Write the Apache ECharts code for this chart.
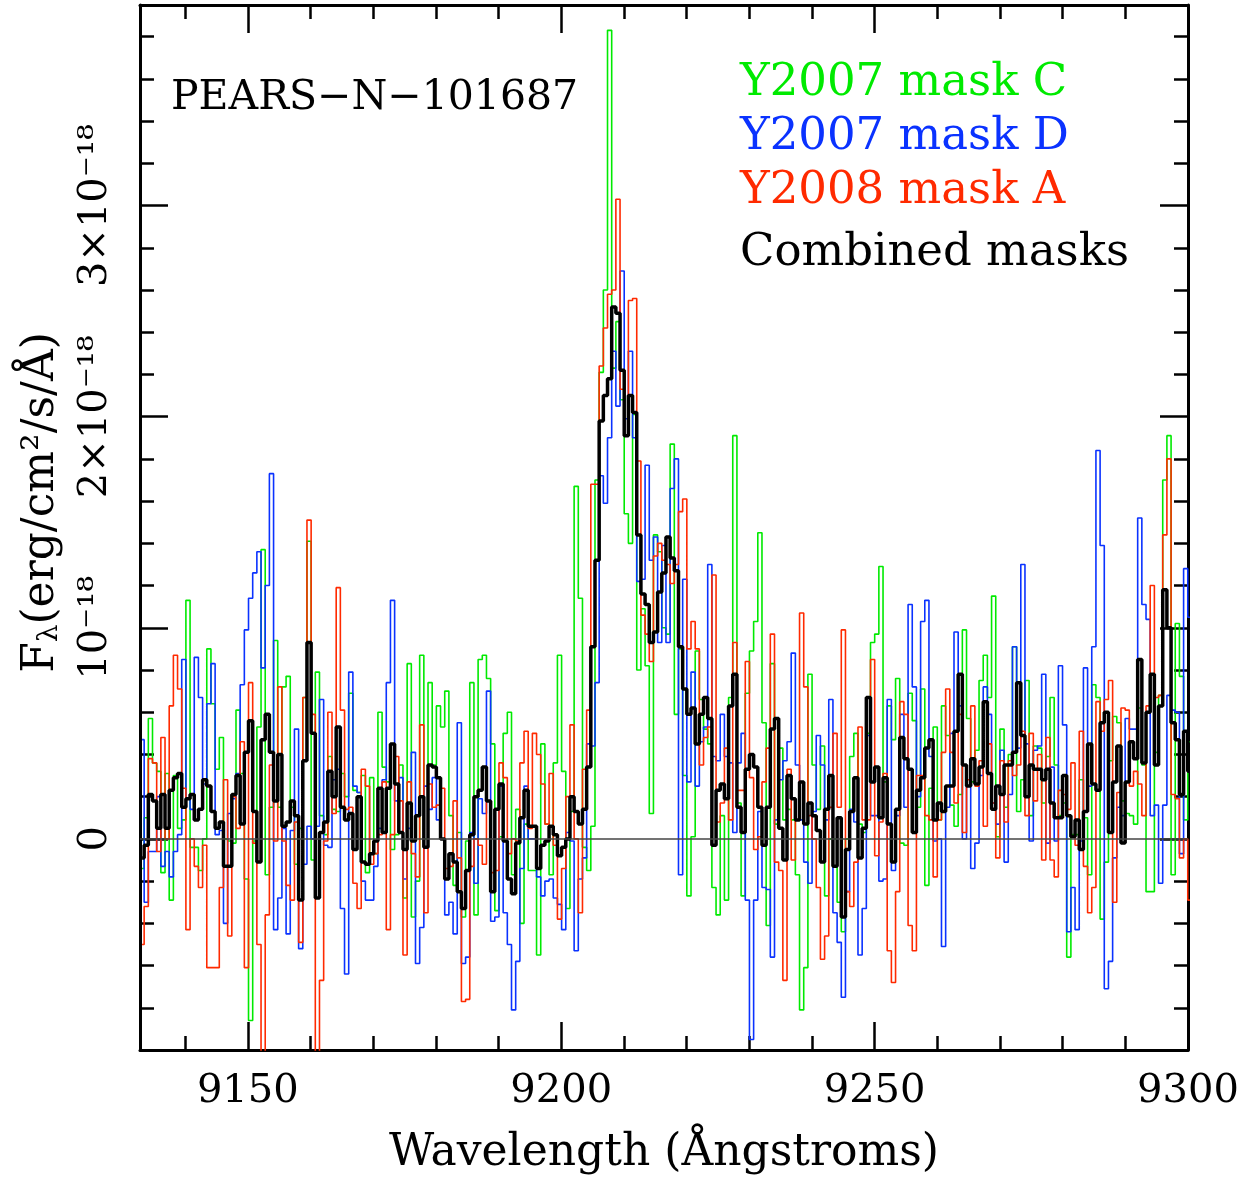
<!DOCTYPE html>
<html><head><meta charset="utf-8">
<script src="https://cdn.jsdelivr.net/npm/echarts@6.0.0/dist/echarts.min.js"></script>
<style>html,body{margin:0;padding:0;background:#fff}#chart{width:1255px;height:1178px}</style>
</head><body><div id="chart"></div>
<script>
// Spectral sampling grid (Angstrom): centre of first bin and bin width
const lamStart = 9133.13;
const lamStep = 0.666;

// Fluxes in units of 1e-18 erg/cm^2/s/A
const fluxMaskC = [
-0.14,0.10,0.57,0.36,0.32,-0.16,0.31,-0.29,0.30,0.05,0.09,1.13,-0.04,-0.04,-0.15,0.00,0.90,0.64,0.33,0.48,0.00,-0.01,-0.02,0.61,0.31,-0.19,-0.86,-0.01,0.53,1.37,-0.17,
0.15,0.94,0.15,0.72,0.77,0.15,-0.12,0.05,0.67,1.41,-0.10,0.79,0.11,0.02,0.39,0.14,0.13,0.31,0.20,0.69,0.23,0.22,0.30,-0.16,0.29,-0.07,0.60,0.34,0.27,-0.05,0.02,
0.35,-0.28,0.83,-0.37,-0.20,0.87,0.00,0.74,0.35,0.63,0.53,0.70,0.11,-0.22,0.03,-0.37,-0.01,0.74,-0.36,0.85,0.87,0.76,0.45,-0.34,0.01,0.50,0.60,-0.17,0.14,-0.40,0.07,
-0.15,-0.15,-0.55,0.45,0.07,-0.17,0.36,0.87,0.32,-0.33,0.13,1.67,1.14,-0.04,-0.15,0.06,1.70,2.21,2.60,3.83,2.23,2.45,2.08,1.54,1.40,2.01,0.80,1.09,0.82,0.12,1.44,1.36,
1.00,0.97,1.87,0.59,0.90,0.30,-0.27,0.01,0.89,0.66,0.52,0.45,-0.23,-0.36,0.11,-0.29,0.67,1.91,0.17,-0.27,0.69,0.89,1.03,1.45,0.55,-0.41,0.83,0.07,0.43,0.09,0.14,
0.09,-0.17,-0.81,-0.61,0.78,0.35,0.14,0.44,-0.27,0.00,0.00,-0.30,-0.44,0.00,0.39,0.50,0.07,0.03,0.50,0.93,0.97,1.29,0.27,0.63,0.47,0.76,-0.02,-0.03,0.69,0.56,0.15,
0.71,-0.22,0.24,0.53,0.09,0.63,0.49,0.16,0.06,0.21,0.99,0.57,0.27,0.42,0.75,0.87,0.67,1.15,0.01,0.52,0.15,0.40,0.91,0.13,0.28,0.75,0.11,0.44,0.43,0.17,0.39,
0.67,0.35,0.11,0.17,-0.56,0.02,0.02,0.28,0.10,-0.17,0.73,0.67,-0.38,-0.11,0.37,0.58,0.55,0.18,0.12,0.11,0.07,0.62,0.35,-0.25,-0.25,0.41,0.68,1.70,1.91,-0.17,1.02,0.77,0.09,0.46
];
const fluxMaskD = [
0.47,-0.30,-0.06,-0.06,0.20,-0.13,-0.06,-0.18,-0.06,0.02,0.85,0.19,0.14,0.86,0.67,0.26,0.64,0.83,0.02,0.04,-0.40,0.12,0.19,0.31,0.73,0.99,1.14,1.26,1.36,0.81,1.20,
1.73,-0.43,-0.28,0.05,-0.45,0.04,0.52,-0.52,-0.12,0.06,0.00,0.06,0.66,-0.03,-0.04,0.28,0.33,-0.33,-0.64,0.79,0.25,0.22,-0.20,-0.29,-0.29,-0.13,0.05,0.28,0.74,1.13,0.18,
0.29,-0.19,0.05,0.41,-0.59,-0.42,0.25,0.14,0.29,0.09,0.00,-0.36,-0.30,-0.45,0.55,-0.59,-0.56,0.03,-0.21,0.19,0.12,0.70,-0.39,-0.37,0.25,-0.35,-0.50,-0.81,-0.58,-0.14,0.25,
0.00,0.00,-0.18,-0.27,-0.20,-0.19,-0.28,-0.31,-0.43,0.03,-0.01,-0.53,-0.19,-0.09,0.45,0.44,0.74,1.72,1.59,1.90,2.31,2.05,2.69,1.99,2.31,1.90,1.22,1.23,1.77,1.32,1.43,0.93,
1.39,0.93,1.66,1.80,-0.17,1.23,0.27,0.79,0.25,0.46,0.53,1.30,0.39,0.37,0.59,0.39,0.36,0.03,0.36,0.50,-0.29,-0.95,-0.29,0.13,-0.23,-0.24,-0.56,0.09,0.28,0.37,0.46,
0.88,0.35,0.09,-0.11,-0.21,0.13,0.49,0.35,0.09,0.66,-0.35,-0.49,-0.75,-0.25,0.14,0.08,-0.55,-0.33,0.49,0.11,0.11,-0.20,-0.19,0.66,-0.15,0.11,0.59,0.15,1.11,0.72,0.20,
1.03,1.13,0.39,-0.01,0.00,-0.51,0.15,0.50,0.98,0.63,0.00,0.25,-0.14,-0.02,0.30,0.72,0.59,0.17,0.07,0.42,-0.11,0.21,0.91,0.43,1.30,0.45,-0.01,0.42,0.44,0.78,-0.02,
0.34,-0.01,0.82,0.54,-0.44,-0.23,-0.43,-0.01,0.81,0.25,0.91,1.84,1.39,-0.71,-0.58,-0.09,0.15,0.11,0.57,0.52,0.52,1.52,1.11,1.04,0.11,0.16,-0.21,0.16,0.68,0.61,0.60,-0.07,1.28,1.05
];
const fluxMaskA = [
-0.50,-0.32,0.38,0.36,-0.06,0.48,0.00,0.63,0.87,0.71,0.24,-0.43,0.00,-0.13,-0.23,-0.03,-0.61,-0.61,-0.61,-0.23,0.28,-0.46,0.20,0.05,0.46,-0.61,0.74,-0.02,-0.50,-1.10,-0.36,
0.35,-0.01,0.72,-0.01,-0.22,-0.29,0.08,-0.49,0.67,1.51,0.59,-1.10,-0.67,-0.01,0.60,0.12,1.19,0.61,0.14,0.15,-0.21,-0.33,0.33,0.25,-0.12,-0.07,0.02,0.27,-0.43,0.02,0.39,
0.18,-0.55,0.27,-0.07,-0.18,0.54,-0.35,0.26,0.15,0.16,0.24,-0.14,-0.13,0.18,-0.09,-0.77,-0.76,-0.13,0.00,-0.03,-0.12,0.18,-0.16,-0.15,0.36,0.29,-0.07,0.00,-0.01,0.36,0.51,
0.05,0.50,0.40,0.26,0.07,0.31,-0.03,-0.38,-0.14,0.20,0.54,0.00,-0.35,0.33,0.61,1.68,1.68,2.24,2.42,2.58,2.60,3.03,2.13,1.91,2.55,2.56,1.79,1.06,0.97,0.84,1.34,1.40,
1.32,1.30,1.21,1.30,1.55,1.61,0.90,1.03,0.90,0.35,0.48,0.53,1.25,0.08,0.17,0.43,0.09,0.93,0.23,0.23,0.84,0.29,-0.05,0.01,0.27,0.43,0.97,-0.11,-0.15,-0.67,0.33,
-0.10,0.09,1.07,0.72,0.11,0.00,-0.23,-0.57,-0.46,0.15,0.50,0.15,0.99,-0.25,-0.32,-0.11,0.53,0.09,0.09,0.85,-0.08,0.08,0.31,-0.53,-0.68,-0.25,0.65,0.59,-0.41,-0.53,0.30,
0.30,0.11,0.09,-0.18,0.09,0.41,0.71,0.41,0.17,0.59,0.03,0.28,0.63,0.25,0.37,0.06,0.45,0.17,-0.09,0.37,0.08,0.37,0.30,0.35,0.51,0.11,0.50,0.18,0.40,-0.10,0.48,
-0.10,-0.18,0.23,0.21,0.14,0.36,-0.03,0.51,-0.13,-0.35,-0.23,0.65,0.51,0.66,0.75,-0.30,0.22,0.62,0.61,0.25,0.32,0.26,0.11,0.63,1.20,0.67,0.68,1.44,1.80,0.21,0.19,-0.09,0.00,-0.29
];
const fluxCombined = [
-0.09,-0.03,0.21,0.18,0.05,0.21,0.05,0.23,0.29,0.31,0.15,0.19,0.21,0.09,0.14,0.28,0.25,0.13,0.05,0.08,-0.13,-0.13,0.21,0.30,0.07,0.41,0.56,0.13,-0.11,0.47,0.59,
0.41,0.18,0.40,0.06,0.08,0.18,0.11,-0.29,0.37,0.93,0.50,-0.28,0.03,0.08,0.32,0.20,0.53,0.15,0.09,0.12,-0.05,0.20,-0.11,-0.12,-0.07,-0.01,0.24,0.03,0.24,0.45,0.26,
0.03,-0.05,0.17,-0.01,0.11,0.20,-0.04,0.35,0.34,0.29,0.00,-0.19,-0.07,-0.11,-0.25,-0.33,-0.15,0.02,0.20,0.23,0.34,0.18,-0.25,0.14,0.26,-0.01,-0.19,-0.26,-0.02,0.10,0.23,
0.06,0.06,-0.14,-0.03,-0.01,0.06,0.02,-0.08,-0.04,0.00,0.20,0.13,0.07,0.14,0.34,0.91,1.32,1.98,2.10,2.18,2.52,2.49,2.22,1.91,2.10,2.02,1.44,1.16,1.11,0.93,0.98,1.17,
1.26,1.43,1.33,1.27,0.91,0.71,0.59,0.62,0.45,0.59,0.67,0.57,-0.03,0.23,0.26,0.19,0.63,0.78,0.15,0.03,0.33,0.40,0.34,0.15,-0.03,0.15,0.52,0.57,0.05,-0.10,0.30,
0.19,0.09,0.27,0.07,0.17,0.11,0.04,-0.11,0.14,0.30,-0.13,0.10,-0.37,-0.05,0.13,0.29,-0.09,0.05,0.67,0.27,0.34,0.10,0.29,0.07,-0.11,0.14,0.48,0.38,0.33,0.03,0.23,
0.29,0.43,0.47,0.09,0.17,0.13,0.25,0.25,0.51,0.78,0.35,0.25,0.38,0.26,0.34,0.65,0.31,0.14,0.25,0.21,0.35,0.35,0.41,0.74,0.49,0.20,0.35,0.33,0.33,0.28,0.33,
0.17,0.10,0.10,0.30,0.11,0.01,0.09,-0.05,0.13,0.45,0.26,0.23,0.55,0.60,0.03,0.27,0.44,-0.02,0.27,0.46,0.38,0.85,0.36,0.60,0.78,0.35,0.63,1.18,1.00,0.55,0.47,0.21,0.51,0.32
];

const seriesNames = ['Y2007 mask C', 'Y2007 mask D', 'Y2008 mask A', 'Combined masks'];
const xMajorTicks = [9150, 9200, 9250, 9300];
const xMinorTicks = [9140, 9160, 9170, 9180, 9190, 9210, 9220, 9230, 9240, 9260, 9270, 9280, 9290];
const yTickLabels = ['0', '10⁻¹⁸', '2×10⁻¹⁸', '3×10⁻¹⁸'];
const titleText = 'PEARS−N−101687';

const FONT = 'DejaVu Serif';
const GREEN = '#00ea00', BLUE = '#0a32ff', RED = '#ff2a00', BLACK = '#000000';

function toPairs(arr) { return arr.map((v, i) => [lamStart + i * lamStep, v]); }

const chart = echarts.init(document.getElementById('chart'), null, {renderer: 'canvas'});

const frameLine = {show: true, onZero: false, lineStyle: {color: '#000', width: 3}};
const noLine = {show: false, onZero: false};
const majTick = (vals) => ({show: true, inside: true, length: 28, customValues: vals, lineStyle: {color: '#000', width: 2.5}});
const minTick = (vals) => ({show: true, inside: true, length: 14, customValues: vals, lineStyle: {color: '#000', width: 2.5}});

const option = {
  animation: false,
  backgroundColor: '#fff',
  textStyle: {fontFamily: FONT},
  title: {
    text: titleText, left: 171, top: 78, padding: 0,
    textStyle: {fontFamily: FONT, fontSize: 41, fontWeight: 'normal', color: '#000', lineHeight: 41}
  },
  legend: [
    {
      orient: 'vertical', left: 735, top: 61, itemGap: 9, itemWidth: 0, itemHeight: 44,
      icon: 'none', padding: 0, selectedMode: false,
      textStyle: {fontFamily: FONT, fontSize: 45, lineHeight: 44},
      data: [
        {name: seriesNames[0], textStyle: {color: GREEN}},
        {name: seriesNames[1], textStyle: {color: BLUE}},
        {name: seriesNames[2], textStyle: {color: RED}}
      ]
    },
    {
      orient: 'vertical', left: 735, top: 231, itemWidth: 0, itemHeight: 44,
      icon: 'none', padding: 0, selectedMode: false,
      textStyle: {fontFamily: FONT, fontSize: 45, lineHeight: 44},
      data: [{name: seriesNames[3], textStyle: {color: BLACK}}]
    }
  ],
  grid: {left: 140, right: 67, top: 5, bottom: 128, containLabel: false, outerBoundsMode: 'none'},
  xAxis: [
    {
      type: 'value', position: 'bottom', min: 9132.8, max: 9300,
      axisLine: frameLine, axisTick: majTick(xMajorTicks), splitLine: {show: false},
      axisLabel: {show: true, customValues: xMajorTicks, margin: 22, fontFamily: FONT, fontSize: 40, color: '#000',
        formatter: function (v) { return String(Math.round(v)); }},
      name: 'Wavelength (Ångstroms)', nameLocation: 'middle', nameGap: 82,
      nameTextStyle: {fontFamily: FONT, fontSize: 44, color: '#000', lineHeight: 44}
    },
    {
      type: 'value', position: 'bottom', min: 9132.8, max: 9300,
      axisLine: noLine, axisTick: minTick(xMinorTicks), axisLabel: {show: false}, splitLine: {show: false}
    },
    {
      type: 'value', position: 'top', min: 9132.8, max: 9300,
      axisLine: frameLine, axisTick: majTick(xMajorTicks), axisLabel: {show: false}, splitLine: {show: false}
    },
    {
      type: 'value', position: 'top', min: 9132.8, max: 9300,
      axisLine: noLine, axisTick: minTick(xMinorTicks), axisLabel: {show: false}, splitLine: {show: false}
    }
  ],
  yAxis: [
    {
      type: 'value', position: 'left', min: -1, max: 3.95, interval: 1,
      axisLine: frameLine,
      axisTick: {show: true, inside: true, length: 28, lineStyle: {color: '#000', width: 2.5}},
      minorTick: {show: true, splitNumber: 5, length: 14, lineStyle: {color: '#000', width: 2.5}},
      splitLine: {show: false},
      axisLabel: {
        show: true, rotate: 90, margin: 24, fontFamily: FONT, fontSize: 40, color: '#000',
        showMinLabel: true, showMaxLabel: true,
        formatter: function (v) {
          const r = Math.round(v);
          if (Math.abs(v - r) > 1e-6 || r < 0 || r > 3) return '';
          return yTickLabels[r];
        }
      },
      name: '{a|F}{b|λ}{a|(erg/cm²/s/Å)}', nameLocation: 'middle', nameRotate: 90, nameGap: 76,
      nameTextStyle: {
        padding: [0, 0, 0, 50],
        rich: {
          a: {fontFamily: FONT, fontSize: 44, color: '#000', lineHeight: 44},
          b: {fontFamily: FONT, fontSize: 28, color: '#000', lineHeight: 44, verticalAlign: 'bottom'}
        }
      }
    },
    {
      type: 'value', position: 'right', min: -1, max: 3.95, interval: 1,
      axisLine: frameLine,
      axisTick: {show: true, inside: true, length: 28, lineStyle: {color: '#000', width: 2.5}},
      minorTick: {show: true, splitNumber: 5, length: 14, lineStyle: {color: '#000', width: 2.5}},
      splitLine: {show: false}, axisLabel: {show: false}
    }
  ],
  series: [
    {
      name: seriesNames[0], type: 'line', step: 'middle', showSymbol: false, symbol: 'none',
      data: toPairs(fluxMaskC), lineStyle: {color: GREEN, width: 1.6}, itemStyle: {color: GREEN},
      markLine: {
        silent: true, symbol: ['none', 'none'], label: {show: false},
        lineStyle: {color: '#444', width: 1.5, type: 'solid'},
        data: [{yAxis: 0}]
      }
    },
    {
      name: seriesNames[1], type: 'line', step: 'middle', showSymbol: false, symbol: 'none',
      data: toPairs(fluxMaskD), lineStyle: {color: BLUE, width: 1.6}, itemStyle: {color: BLUE}
    },
    {
      name: seriesNames[2], type: 'line', step: 'middle', showSymbol: false, symbol: 'none',
      data: toPairs(fluxMaskA), lineStyle: {color: RED, width: 1.6}, itemStyle: {color: RED}
    },
    {
      name: seriesNames[3], type: 'line', step: 'middle', showSymbol: false, symbol: 'none',
      data: toPairs(fluxCombined), lineStyle: {color: BLACK, width: 3.5}, itemStyle: {color: BLACK}
    }
  ]
};
chart.setOption(option);
</script>
</body></html>
